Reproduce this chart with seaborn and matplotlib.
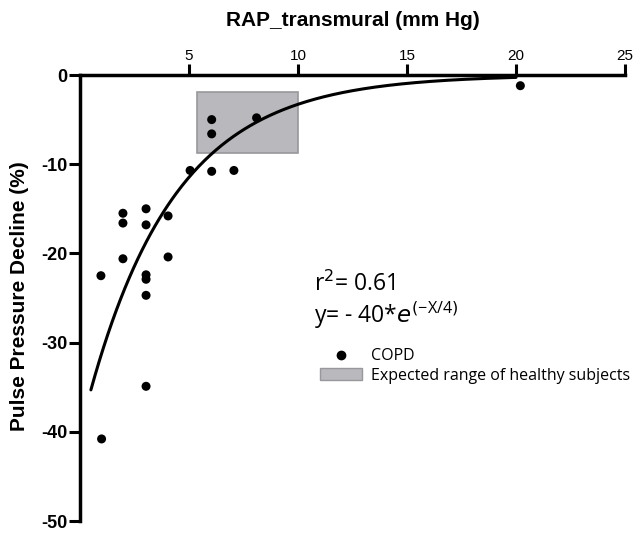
import numpy as np
import pandas as pd
import matplotlib
matplotlib.use("Agg")
import matplotlib.pyplot as plt
import seaborn as sns
from matplotlib.lines import Line2D
from matplotlib.patches import Patch, Rectangle

# Data
rap = [0.96, 1.97, 1.97, 3.03, 3.03, 4.04, 1.97, 4.04, 3.03, 3.03, 3.03,
       3.03, 0.99, 6.04, 6.04, 8.1, 5.05, 6.04, 7.06, 20.2]
ppd = [-22.5, -15.5, -16.6, -15.0, -16.8, -15.8, -20.6, -20.4, -22.4, -22.9,
       -24.7, -34.9, -40.8, -5.0, -6.6, -4.8, -10.7, -10.8, -10.7, -1.2]
healthy_x = [5.35, 10.0]
healthy_y = [-8.8, -1.9]
fit_a = -40
fit_k = 4
fit_x_range = [0.5, 20]
x_ticks = [5, 10, 15, 20, 25]
y_ticks = [-50, -40, -30, -20, -10, 0]

sns.set_theme(style="white")
plt.rcParams['font.family'] = ['Liberation Sans', 'DejaVu Sans']
plt.rcParams['text.color'] = 'black'
plt.rcParams['xtick.color'] = 'black'
plt.rcParams['ytick.color'] = 'black'
plt.rcParams['axes.labelcolor'] = 'black'

fig = plt.figure(figsize=(6.42, 5.34), dpi=100)
ax = fig.add_axes([80/642, 1-521/534, (625-80)/642, (521-75)/534])

# healthy range box
ax.add_patch(Rectangle((healthy_x[0], healthy_y[0]), healthy_x[1]-healthy_x[0],
                       healthy_y[1]-healthy_y[0], facecolor="#b9b9bd",
                       edgecolor="#98989c", linewidth=1.2, zorder=1))

xs = np.linspace(fit_x_range[0], fit_x_range[1], 300)
curve = pd.DataFrame({"x": xs, "y": fit_a*np.exp(-xs/fit_k)})
sns.lineplot(data=curve, x="x", y="y", color="black", linewidth=2.2, ax=ax, zorder=3)

pts = pd.DataFrame({"rap": rap, "ppd": ppd})
sns.scatterplot(data=pts, x="rap", y="ppd", color="black", s=42, edgecolor="none",
                ax=ax, zorder=4)

ax.set_xlim(0, 25)
ax.set_ylim(-50, 0)
ax.xaxis.tick_top()
ax.set_xticks(x_ticks)
ax.set_yticks(y_ticks)
ax.set_xticklabels([str(t) for t in x_ticks], fontweight="bold", fontsize=12.5)
ax.set_yticklabels([str(t) for t in y_ticks], fontweight="bold", fontsize=13)
ax.tick_params(axis="x", direction="out", length=8, width=2.2, pad=1, top=True, bottom=False)
ax.tick_params(axis="y", direction="out", length=8, width=2.2, pad=1, left=True)
for s in ["right", "bottom"]:
    ax.spines[s].set_visible(False)
for s in ["top", "left"]:
    ax.spines[s].set_visible(True)
    ax.spines[s].set_linewidth(2.5)
    ax.spines[s].set_color("black")
ax.spines["top"].set_position(("data", 0))
ax.set_xlabel("")
ax.set_ylabel("")
fig.text(353/642, 1-21/534, "RAP_transmural (mm Hg)", fontweight="bold",
         fontsize=15, ha="center", va="center")
fig.text(20/642, 1-296/534, "Pulse Pressure Decline (%)", fontweight="bold",
         fontsize=15, ha="center", va="center", rotation=90)

fig.text(314/642, 1-284/534, r"r$^{2}$= 0.61",
         fontsize=16.5, family=["Open Sans", "DejaVu Sans"], va="center")
fig.text(314/642, 1-315/534, r"y= - 40*$e^{(\mathregular{-X/4})}$",
         fontsize=16.5, family=["Open Sans", "DejaVu Sans"], va="center")

handles = [Line2D([], [], marker="o", color="black", linestyle="none", markersize=6),
           Patch(facecolor="#b9b9bd", edgecolor="#98989c")]
leg = ax.legend(handles, ["COPD", "Expected range of healthy subjects"],
                loc="upper left", bbox_to_anchor=(314/642, 1-342/534),
                bbox_transform=fig.transFigure, frameon=False,
                prop={"family": "Open Sans", "size": 11.5}, handlelength=2.6,
                handletextpad=0.55, labelspacing=0.2, borderaxespad=0)

fig.savefig("out.png", dpi=100)
